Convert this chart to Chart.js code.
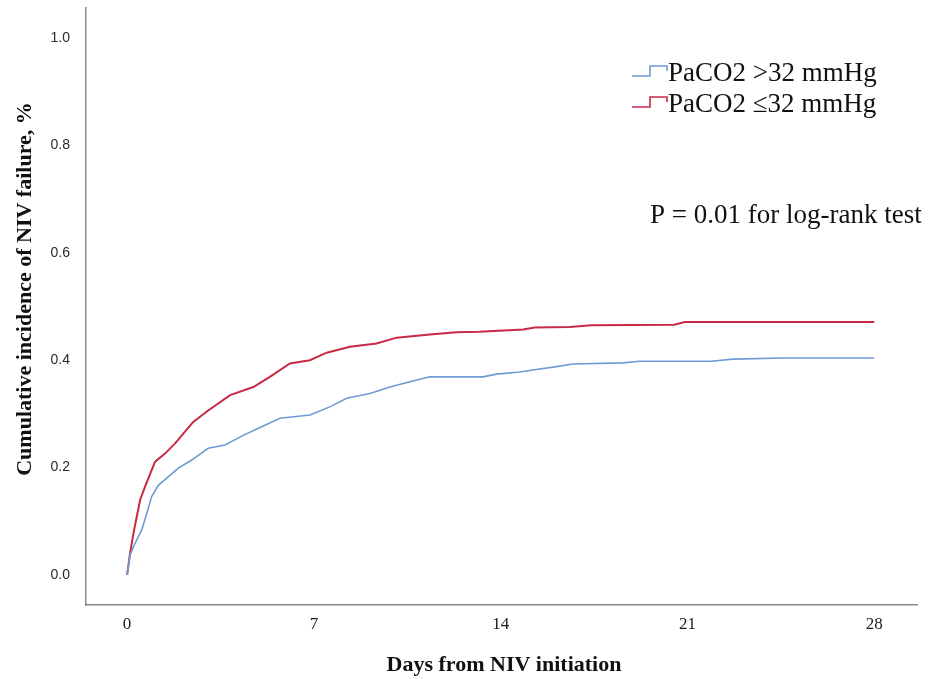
<!DOCTYPE html>
<html>
<head>
<meta charset="utf-8">
<script src="https://cdn.jsdelivr.net/npm/chart.js@4/dist/chart.umd.min.js"></script>
<style>
  html, body { margin: 0; padding: 0; background: #fff; }
  canvas { display: block; }
</style>
</head>
<body>
<canvas id="km" width="929" height="679"></canvas>
<script>
// curves (days, cumulative incidence)
var high_days = [0, 0.11, 0.3, 0.55, 0.74, 0.92, 1.17, 1.55, 1.92, 2.42, 3.04, 3.67, 4.35, 5.0, 5.73, 6.85, 7.6, 8.23, 9.1, 9.85, 10.6, 11.34, 13.34, 13.84, 14.71, 15.4, 16.09, 16.71, 18.58, 19.2, 21.9, 22.7, 24.6, 28];
var high_vals = [0, 0.037, 0.059, 0.084, 0.115, 0.146, 0.167, 0.183, 0.199, 0.214, 0.236, 0.242, 0.260, 0.275, 0.292, 0.298, 0.313, 0.329, 0.338, 0.350, 0.360, 0.369, 0.369, 0.374, 0.378, 0.383, 0.388, 0.393, 0.395, 0.398, 0.398, 0.402, 0.404, 0.404];

var low_days = [0, 0.11, 0.24, 0.36, 0.49, 0.67, 0.92, 1.05, 1.42, 1.8, 2.17, 2.48, 3.0, 3.86, 4.73, 5.35, 6.1, 6.85, 7.48, 8.35, 9.35, 10.1, 11.34, 12.34, 13.2, 14.84, 15.28, 16.59, 17.4, 20.5, 20.9, 28];
var low_vals = [0, 0.040, 0.078, 0.108, 0.140, 0.164, 0.195, 0.211, 0.226, 0.245, 0.267, 0.285, 0.305, 0.335, 0.350, 0.369, 0.394, 0.400, 0.414, 0.425, 0.431, 0.442, 0.448, 0.452, 0.453, 0.457, 0.461, 0.462, 0.465, 0.466, 0.471, 0.471];

var series_names = ['PaCO2 >32 mmHg', 'PaCO2 \u226432 mmHg'];
var x_ticks = [0, 7, 14, 21, 28];
var y_ticks = [0, 0.2, 0.4, 0.6, 0.8, 1.0];

var BLUE = '#6d9bd3';
var RED = '#c62a45';

function pts(xs, ys) {
    return xs.map(function (d, i) { return {x: d, y: ys[i]}; });
}

// legend, p-value and axis titles drawn by hand (SPSS style)
var decor = {
    id: 'decor',
    afterDraw: function (chart) {
        var c = chart.ctx;
        c.save();
        c.font = '27px "Liberation Serif"';
        c.fillStyle = '#111';
        c.textBaseline = 'middle';
        var rows = [[BLUE, 73], [RED, 104]];
        rows.forEach(function (r, i) {
            var y = r[1];
            c.strokeStyle = r[0];
            c.lineWidth = 1.6;
            c.beginPath();
            c.moveTo(632, y + 3);
            c.lineTo(650, y + 3);
            c.lineTo(650, y - 7);
            c.lineTo(667, y - 7);
            c.lineTo(667, y - 2);
            c.stroke();
            c.fillText(series_names[i], 668, y + 1);
        });
        c.fillText('P = 0.01 for log-rank test', 650, 216);

        c.font = 'bold 22px "Liberation Serif"';
        c.textAlign = 'center';
        c.fillText('Days from NIV initiation', 504, 665);
        c.translate(25, 289);
        c.rotate(-Math.PI / 2);
        c.fillText('Cumulative incidence of NIV failure, %', 0, 0);
        c.restore();
    }
};

var ctx = document.getElementById('km');
var kmChart = new Chart(ctx, {
    type: 'line',
    data: {
        datasets: [{
            label: series_names[0],
            data: pts(high_days, high_vals),
            borderColor: BLUE,
            borderWidth: 1.6,
            pointRadius: 0,
            fill: false,
            tension: 0
        }, {
            label: series_names[1],
            data: pts(low_days, low_vals),
            borderColor: RED,
            borderWidth: 2,
            pointRadius: 0,
            fill: false,
            tension: 0
        }]
    },
    options: {
        responsive: false,
        animation: false,
        layout: {padding: {top: 8, right: 12, left: 0, bottom: 0}},
        plugins: {legend: {display: false}, tooltip: {enabled: false}},
        scales: {
            x: {
                type: 'linear',
                min: -1.54,
                max: 29.6,
                afterBuildTicks: function (s) { s.ticks = x_ticks.map(function (v) { return {value: v}; }); },
                afterFit: function (s) { s.height = 74; s.paddingLeft = 0; s.paddingRight = 0; },
                grid: {display: false},
                border: {color: '#8a8a8a', width: 1.5},
                ticks: {
                    padding: 1,
                    color: '#1a1a1a',
                    font: {family: '"Liberation Serif"', size: 17}
                }
            },
            y: {
                type: 'linear',
                min: -0.056,
                max: 1.056,
                afterBuildTicks: function (s) { s.ticks = y_ticks.map(function (v) { return {value: v}; }); },
                afterFit: function (s) { s.width = 86; s.paddingTop = 0; s.paddingBottom = 0; },
                grid: {display: false},
                border: {color: '#8a8a8a', width: 1.5},
                ticks: {
                    padding: 8,
                    color: '#2a2a2a',
                    font: {family: '"Liberation Sans"', size: 14},
                    callback: function (v) { return v.toFixed(1); }
                }
            }
        }
    },
    plugins: [decor]
});
</script>
</body>
</html>
